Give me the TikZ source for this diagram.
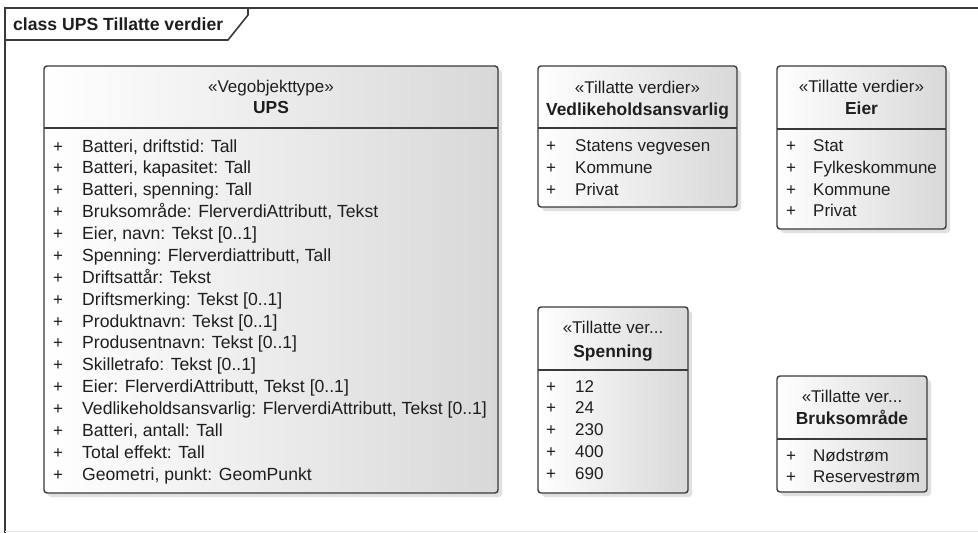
\documentclass[tikz,border=0pt]{standalone}
\usepackage{fontspec}
\setmainfont{Liberation Sans}
\usetikzlibrary{positioning}

\definecolor{umltext}{HTML}{1E1E1E}
\definecolor{umlline}{HTML}{3A3A3A}
\definecolor{umlshade}{HTML}{D8D8D8}

\begin{document}
\begin{tikzpicture}[x=1pt,y=-1pt,
  every node/.style={inner sep=0pt,text=umltext,font=\fontsize{17}{20}\selectfont},
  stereo/.style={anchor=base},
  cname/.style={anchor=base,font=\fontsize{17.4}{20}\selectfont\bfseries},
  plus/.style={anchor=base west},
  attr/.style={anchor=base west},
  upsattr/.style={anchor=base west,font=\fontsize{17.6}{20}\selectfont},
  classbox/.style={draw=umlline,line width=1.4pt,rounded corners=3pt,left color=white,right color=umlshade},
  boxshadow/.style={fill=black!12,rounded corners=3pt},
  sepline/.style={draw=umlline,line width=1.4pt},
  frameline/.style={draw=umlline,line width=1.6pt}]
 \useasboundingbox (0,0) rectangle (978,533);
 % diagram frame
 \draw[frameline] (978,8) -- (5,8) -- (5,533);
 \draw[black!10,line width=1pt] (5,531) -- (978,531);
 \draw[frameline] (5,40) -- (228,40) -- (248,15) -- (248,8);
 \node[anchor=base west,font=\fontsize{17.6}{20}\selectfont\bfseries] (title) at (13,30) {class UPS Tillatte verdier};

 % UPS
 \fill[boxshadow] (48,70) rectangle (502,497);
 \draw[classbox] (44,66) rectangle (498,493);
 \draw[sepline] (44,128) -- (498,128);
 \node[stereo] (ups-st) at (271,92) {«Vegobjekttype»};
 \node[cname] (ups-nm) at (271,113.5) {UPS};
 \node[plus] (ups-p1) at (53,152) {+};
 \node[upsattr] (ups-a1) at (82,152) {Batteri, driftstid: Tall};
 \node[plus] (ups-p2) at (53,173.9) {+};
 \node[upsattr] (ups-a2) at (82,173.9) {Batteri, kapasitet: Tall};
 \node[plus] (ups-p3) at (53,195.7) {+};
 \node[upsattr] (ups-a3) at (82,195.7) {Batteri, spenning: Tall};
 \node[plus] (ups-p4) at (53,217.6) {+};
 \node[upsattr] (ups-a4) at (82,217.6) {Bruksområde: FlerverdiAttributt, Tekst};
 \node[plus] (ups-p5) at (53,239.5) {+};
 \node[upsattr] (ups-a5) at (82,239.5) {Eier, navn: Tekst [0..1]};
 \node[plus] (ups-p6) at (53,261.4) {+};
 \node[upsattr] (ups-a6) at (82,261.4) {Spenning: Flerverdiattributt, Tall};
 \node[plus] (ups-p7) at (53,283.2) {+};
 \node[upsattr] (ups-a7) at (82,283.2) {Driftsattår: Tekst};
 \node[plus] (ups-p8) at (53,305.1) {+};
 \node[upsattr] (ups-a8) at (82,305.1) {Driftsmerking: Tekst [0..1]};
 \node[plus] (ups-p9) at (53,327) {+};
 \node[upsattr] (ups-a9) at (82,327) {Produktnavn: Tekst [0..1]};
 \node[plus] (ups-p10) at (53,348.8) {+};
 \node[upsattr] (ups-a10) at (82,348.8) {Produsentnavn: Tekst [0..1]};
 \node[plus] (ups-p11) at (53,370.7) {+};
 \node[upsattr] (ups-a11) at (82,370.7) {Skilletrafo: Tekst [0..1]};
 \node[plus] (ups-p12) at (53,392.6) {+};
 \node[upsattr] (ups-a12) at (82,392.6) {Eier: FlerverdiAttributt, Tekst [0..1]};
 \node[plus] (ups-p13) at (53,414.4) {+};
 \node[upsattr] (ups-a13) at (82,414.4) {Vedlikeholdsansvarlig: FlerverdiAttributt, Tekst [0..1]};
 \node[plus] (ups-p14) at (53,436.3) {+};
 \node[upsattr] (ups-a14) at (82,436.3) {Batteri, antall: Tall};
 \node[plus] (ups-p15) at (53,458.2) {+};
 \node[upsattr] (ups-a15) at (82,458.2) {Total effekt: Tall};
 \node[plus] (ups-p16) at (53,480) {+};
 \node[upsattr] (ups-a16) at (82,480) {Geometri, punkt: GeomPunkt};

 % Vedlikeholdsansvarlig
 \fill[boxshadow] (542,70) rectangle (741,211);
 \draw[classbox] (538,66) rectangle (737,207);
 \draw[sepline] (538,128) -- (737,128);
 \node[stereo] (ved-st) at (637.5,93) {«Tillatte verdier»};
 \node[cname] (ved-nm) at (637.5,115) {Vedlikeholdsansvarlig};
 \node[plus] (ved-p1) at (546,151.5) {+};
 \node[attr] (ved-a1) at (575,151.5) {Statens vegvesen};
 \node[plus] (ved-p2) at (546,173.3) {+};
 \node[attr] (ved-a2) at (575,173.3) {Kommune};
 \node[plus] (ved-p3) at (546,195) {+};
 \node[attr] (ved-a3) at (575,195) {Privat};

 % Eier
 \fill[boxshadow] (781,70) rectangle (950,233);
 \draw[classbox] (777,66) rectangle (946,229);
 \draw[sepline] (777,129) -- (946,129);
 \node[stereo] (eier-st) at (861.5,92.5) {«Tillatte verdier»};
 \node[cname] (eier-nm) at (861.5,114) {Eier};
 \node[plus] (eier-p1) at (786,151.5) {+};
 \node[attr] (eier-a1) at (813,151.5) {Stat};
 \node[plus] (eier-p2) at (786,173.3) {+};
 \node[attr] (eier-a2) at (813,173.3) {Fylkeskommune};
 \node[plus] (eier-p3) at (786,195) {+};
 \node[attr] (eier-a3) at (813,195) {Kommune};
 \node[plus] (eier-p4) at (786,216.8) {+};
 \node[attr] (eier-a4) at (813,216.8) {Privat};

 % Spenning
 \fill[boxshadow] (542,311) rectangle (692,497);
 \draw[classbox] (538,307) rectangle (688,493);
 \draw[sepline] (538,370) -- (688,370);
 \node[stereo] (sp-st) at (613,333) {«Tillatte ver...};
 \node[cname] (sp-nm) at (613,357) {Spenning};
 \node[plus] (sp-p1) at (546,392) {+};
 \node[attr] (sp-a1) at (575,392) {12};
 \node[plus] (sp-p2) at (546,413.8) {+};
 \node[attr] (sp-a2) at (575,413.8) {24};
 \node[plus] (sp-p3) at (546,435.6) {+};
 \node[attr] (sp-a3) at (575,435.6) {230};
 \node[plus] (sp-p4) at (546,457.4) {+};
 \node[attr] (sp-a4) at (575,457.4) {400};
 \node[plus] (sp-p5) at (546,479) {+};
 \node[attr] (sp-a5) at (575,479) {690};

 % Bruksomraade
 \fill[boxshadow] (781,380) rectangle (931,496);
 \draw[classbox] (777,376) rectangle (927,492);
 \draw[sepline] (777,439) -- (927,439);
 \node[stereo] (br-st) at (852,402) {«Tillatte ver...};
 \node[cname] (br-nm) at (852,424) {Bruksområde};
 \node[plus] (br-p1) at (786,461) {+};
 \node[attr] (br-a1) at (813,461) {Nødstrøm};
 \node[plus] (br-p2) at (786,482.5) {+};
 \node[attr] (br-a2) at (813,482.5) {Reservestrøm};
\end{tikzpicture}
\end{document}
